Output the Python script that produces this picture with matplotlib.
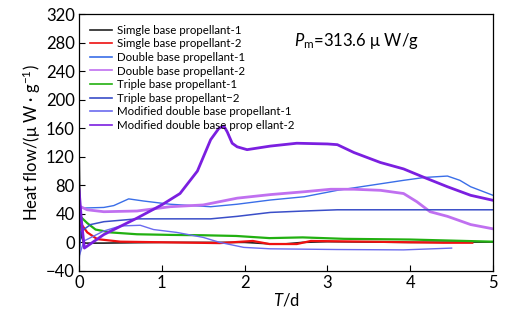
import matplotlib
matplotlib.use("Agg")
import matplotlib.pyplot as plt

plt.rcParams['font.family'] = ['Lato', 'DejaVu Sans']
plt.rcParams['mathtext.fontset'] = 'custom'
plt.rcParams['mathtext.it'] = 'Lato:italic'
plt.rcParams['mathtext.rm'] = 'Lato'

# series data (T in days, heat flow in uW/g)
black_t = [0, 0.01, 0.03, 0.06, 0.3, 1.0, 2.0, 2.3, 2.5, 2.7, 3.0, 4.0, 5.0]
black_v = [140, 60, 8, -1, -1, 0, 0, -2, -2, 0, 1, 0, 0.5]

red_t = [0, 0.1, 0.22, 0.5, 1.1, 1.7, 2.1, 2.3, 2.63, 2.8, 3.5, 4.4, 4.75]
red_v = [30, 14, 4.6, 1, 0, -1, 2, -2.3, -2.3, 2, 1, -0.5, -0.5]

dbl1_t = [0, 0.3, 0.42, 0.6, 0.78, 1.1, 1.59, 1.91, 2.31, 2.72, 3.12, 3.52, 3.92, 4.17, 4.45, 4.6, 4.73, 5.0]
dbl1_v = [48, 49, 51.6, 61, 58, 53.5, 50, 53.5, 59.4, 64, 73, 80, 87, 91, 93, 87, 78, 66]

dbl2_t = [0, 0.1, 0.3, 0.7, 1.1, 1.5, 1.91, 2.31, 2.72, 3.04, 3.32, 3.64, 3.92, 4.08, 4.24, 4.45, 4.73, 5.0]
dbl2_v = [51, 45.7, 43, 44, 50, 52.5, 62, 67, 71, 74.5, 74.5, 73, 68.5, 57, 43, 36.5, 25, 19]

tri1_t = [0, 0.1, 0.2, 0.38, 0.7, 1.1, 1.5, 1.9, 2.3, 2.7, 3.2, 4.0, 5.0]
tri1_v = [38, 27, 18, 14, 11.4, 10.5, 10, 9, 6, 7, 5, 4, 1]

tri2_t = [0, 0.02, 0.14, 0.3, 0.7, 1.1, 1.59, 1.91, 2.31, 2.72, 3.12, 4.0, 5.0]
tri2_v = [-30, 15, 25, 29, 33, 33, 33, 36.5, 42, 44, 45.7, 45.7, 45.7]

mod1_t = [0, 0.06, 0.3, 0.5, 0.74, 0.9, 1.18, 1.5, 1.7, 1.99, 2.31, 3.12, 3.92, 4.5]
mod1_v = [-20, 2, 16, 23, 24, 18, 14, 7, 0, -7, -9, -10, -10.5, -8]

mod2_t = [0, 0.03, 0.065, 0.3, 0.7, 1.0, 1.22, 1.43, 1.59, 1.69, 1.75, 1.79, 1.85, 1.91, 2.03, 2.31,
          2.63, 3.0, 3.12, 3.32, 3.64, 3.92, 4.17, 4.45, 4.73, 5.0]
mod2_v = [75, 30, -8, 11, 34, 52.6, 68.5, 100, 144, 160, 163, 155, 139, 134, 130, 135,
          139, 138, 137, 126, 112, 103, 91, 78, 66, 59]

labels = ['Simgle base propellant-1', 'Simgle base propellant-2', 'Double base propellant-1',
          'Double base propellant-2', 'Triple base propellant-1', 'Triple base propellant\u22122',
          'Modified double base propellant-1', 'Modified double base prop ellant-2']

fig = plt.figure(figsize=(5.08, 3.21), dpi=100)
ax = fig.add_axes([0.1555, 0.156, 0.815, 0.8])

ax.plot(black_t, black_v, color='#222222', lw=1.2, label=labels[0])
ax.plot(red_t, red_v, color='#ee1111', lw=1.6, label=labels[1])
ax.plot(dbl1_t, dbl1_v, color='#3a6ee8', lw=1.0, label=labels[2])
ax.plot(dbl2_t, dbl2_v, color='#c070f0', lw=2.0, label=labels[3])
ax.plot(tri1_t, tri1_v, color='#22b011', lw=1.6, label=labels[4])
ax.plot(tri2_t, tri2_v, color='#3a4ec8', lw=1.1, label=labels[5])
ax.plot(mod1_t, mod1_v, color='#6b6bef', lw=1.0, label=labels[6])
ax.plot(mod2_t, mod2_v, color='#7b1fe0', lw=2.0, label=labels[7])

ax.set_xlim(0, 5)
ax.set_ylim(-40, 320)
ax.set_xticks([0, 1, 2, 3, 4, 5])
ax.set_yticks(range(-40, 321, 40))
ax.set_yticklabels([str(v).replace('-', '\u2212') for v in range(-40, 321, 40)])
ax.tick_params(direction='in', labelsize=12, length=4, pad=3)
for s in ax.spines.values():
    s.set_linewidth(0.9)

ax.set_xlabel('$T$/d', fontsize=12, labelpad=0)
ax.set_ylabel('Heat flow/(\u03bc W \u00b7 g$^{-1}$)', fontsize=12, labelpad=2)

ax.text(0.52, 0.935, '$P_{\\mathrm{m}}$=313.6 \u03bc W/g', transform=ax.transAxes,
        fontsize=12, va='top')

leg = ax.legend(loc='upper left', bbox_to_anchor=(0.01, 0.985), frameon=False, fontsize=8.3,
                handlelength=1.9, handletextpad=0.4, labelspacing=0.22, borderaxespad=0.2)
for ln in leg.get_lines():
    ln.set_linewidth(1.2)

fig.savefig('out.png', dpi=100)
